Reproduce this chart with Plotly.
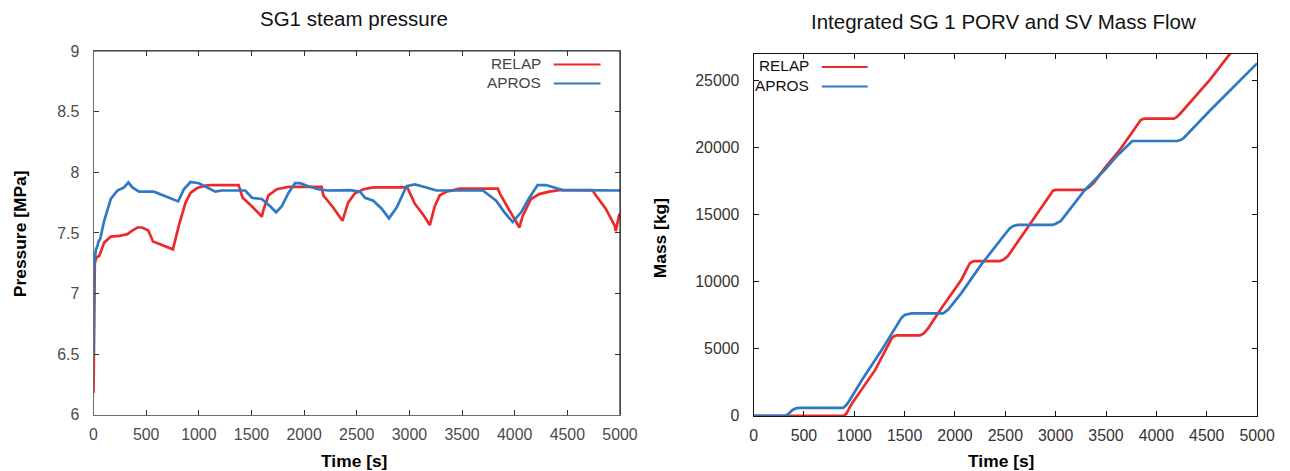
import plotly.graph_objects as go

# ---------------- data ----------------
relap_p_t = [0, 5, 12, 29, 54, 101, 164, 243, 322, 369, 416, 461, 520, 565, 621, 700, 754,
             810, 874, 921, 984, 1063, 1120, 1378, 1416, 1504, 1598, 1614, 1662, 1740, 1851,
             2166, 2182, 2276, 2364, 2418, 2481, 2563, 2657, 2980, 3052, 3131, 3194, 3241,
             3288, 3351, 3414, 3477, 3840, 3862, 3934, 4004, 4045, 4076, 4155, 4234, 4328,
             4423, 4738, 4770, 4865, 4950, 4960, 4990, 5000]
relap_p = [6.18, 7.0, 7.25, 7.30, 7.31, 7.42, 7.47, 7.475, 7.49, 7.52, 7.545, 7.545, 7.52,
           7.43, 7.41, 7.385, 7.365, 7.56, 7.75, 7.83, 7.87, 7.89, 7.895, 7.895, 7.79, 7.72,
           7.635, 7.69, 7.81, 7.86, 7.88, 7.88, 7.81, 7.71, 7.60, 7.75, 7.825, 7.86, 7.875,
           7.875, 7.74, 7.65, 7.565, 7.72, 7.81, 7.84, 7.853, 7.865, 7.865, 7.82, 7.71, 7.61,
           7.545, 7.64, 7.78, 7.82, 7.84, 7.853, 7.853, 7.81, 7.70, 7.56, 7.515, 7.64, 7.66]

apros_p_t = [0, 5, 15, 22, 40, 47, 63, 101, 164, 227, 290, 331, 369, 432, 574, 716, 804, 858,
             921, 1000, 1078, 1157, 1215, 1441, 1504, 1598, 1677, 1734, 1788, 1851, 1914, 1961,
             2040, 2134, 2227, 2437, 2532, 2579, 2657, 2737, 2806, 2879, 2973, 3052, 3162, 3257,
             3698, 3761, 3824, 3903, 3981, 4061, 4139, 4218, 4297, 4376, 4454, 5000]
apros_p = [6.5, 7.25, 7.30, 7.36, 7.40, 7.43, 7.45, 7.60, 7.78, 7.85, 7.875, 7.917, 7.875, 7.84,
           7.84, 7.79, 7.76, 7.86, 7.92, 7.91, 7.875, 7.84, 7.85, 7.85, 7.79, 7.78, 7.72, 7.67,
           7.72, 7.83, 7.91, 7.91, 7.885, 7.86, 7.85, 7.853, 7.84, 7.79, 7.765, 7.70, 7.62, 7.71,
           7.885, 7.90, 7.875, 7.85, 7.85, 7.81, 7.765, 7.67, 7.59, 7.67, 7.79, 7.895, 7.895,
           7.875, 7.853, 7.85]

relap_m_t = [0, 895, 920, 977, 1208, 1373, 1395, 1422, 1653, 1690, 1735, 1867, 2065, 2147,
             2170, 2197, 2444, 2480, 2526, 2756, 2954, 2975, 3003, 3284, 3330, 3382, 3481,
             3645, 3843, 3865, 3892, 4173, 4205, 4238, 4535, 4749, 5000]
relap_m = [0, 0, 150, 930, 3430, 5800, 5940, 6000, 6000, 6150, 6550, 8050, 10180, 11380,
           11500, 11550, 11550, 11650, 11930, 14430, 16680, 16810, 16860, 16860, 17050, 17430,
           18430, 19930, 22060, 22150, 22180, 22180, 22300, 22560, 25110, 27190, 29300]

apros_m_t = [0, 320, 350, 384, 420, 450, 888, 915, 945, 1076, 1274, 1439, 1470, 1505, 1570,
             1883, 1905, 1933, 2065, 2262, 2542, 2580, 2625, 2970, 3005, 3052, 3284, 3497,
             3613, 3761, 4205, 4240, 4272, 4535, 5000]
apros_m = [0, 0, 180, 427, 560, 600, 600, 760, 1050, 2680, 4930, 6930, 7330, 7550, 7650,
           7650, 7750, 7930, 9180, 11300, 13980, 14170, 14250, 14250, 14360, 14550, 16800,
           18430, 19430, 20510, 20510, 20580, 20730, 22800, 26300]

series_names = ["RELAP", "APROS"]
x_ticks = [0, 500, 1000, 1500, 2000, 2500, 3000, 3500, 4000, 4500, 5000]
p_ticks = [6, 6.5, 7, 7.5, 8, 8.5, 9]
m_ticks = [0, 5000, 10000, 15000, 20000, 25000]

titles = ["SG1 steam pressure", "Integrated SG 1 PORV and SV Mass Flow"]
x_title = "Time [s]"
y_titles = ["Pressure [MPa]", "Mass [kg]"]

# ---------------- styling ----------------
# Figure size and a measured window-pixel -> figure-pixel mapping of the viewer.
FW, FH = 1300, 482
AX, SX = 2.7, 0.986
AY, SY = 8.0, 0.965
K = 1 / ((SX + SY) / 2)          # font compensation

RED = "#eb2a2a"
BLUE = "#2f78c3"
FONT = "Liberation Sans"
LW = 2.7


def px(x):
    return ((x - AX) / SX) / FW


def py(y):
    return 1 - ((y - AY) / SY) / FH


fig = go.Figure()

fig.add_trace(go.Scatter(x=relap_p_t, y=relap_p, mode="lines", name=series_names[0],
                         line=dict(color=RED, width=LW), xaxis="x", yaxis="y", showlegend=False))
fig.add_trace(go.Scatter(x=apros_p_t, y=apros_p, mode="lines", name=series_names[1],
                         line=dict(color=BLUE, width=LW), xaxis="x", yaxis="y", showlegend=False))
fig.add_trace(go.Scatter(x=relap_m_t, y=relap_m, mode="lines", name=series_names[0],
                         line=dict(color=RED, width=LW), xaxis="x2", yaxis="y2", showlegend=False))
fig.add_trace(go.Scatter(x=apros_m_t, y=apros_m, mode="lines", name=series_names[1],
                         line=dict(color=BLUE, width=LW), xaxis="x2", yaxis="y2", showlegend=False))

common_axis = dict(showgrid=False, zeroline=False, showline=True, mirror="allticks",
                   ticks="inside", ticklen=5.2, tickwidth=1)
TF = 15.5 * K

fig.update_layout(
    width=FW, height=FH,
    margin=dict(l=0, r=0, t=0, b=0),
    paper_bgcolor="white", plot_bgcolor="white",
    font=dict(family=FONT, size=15, color="#444"),
    xaxis=dict(domain=[px(92.5), px(620.5)], range=[0, 5000], tickvals=x_ticks,
               linecolor="#6e6e6e", tickcolor="#333", anchor="y", ticklabelstandoff=5,
               tickfont=dict(size=TF, color="#4a4a4a"), **common_axis),
    yaxis=dict(domain=[py(415), py(51)], range=[6, 9], tickvals=p_ticks,
               linecolor="#6e6e6e", tickcolor="#333", anchor="x", ticklabelstandoff=10,
               tickfont=dict(size=TF, color="#4a4a4a"), **common_axis),
    xaxis2=dict(domain=[px(754.5), px(1259.5)], range=[0, 5000], tickvals=x_ticks,
                linecolor="#111", tickcolor="#111", anchor="y2", ticklabelstandoff=5,
                tickfont=dict(size=TF, color="#333"), **common_axis),
    yaxis2=dict(domain=[py(416), py(54)], range=[0, 27000], tickvals=m_ticks, tickformat="d",
                linecolor="#111", tickcolor="#111", anchor="x2", ticklabelstandoff=10,
                tickfont=dict(size=TF, color="#333"), **common_axis),
)

# darker top/right border on the left chart
fig.add_shape(type="line", xref="x domain", yref="y domain", x0=0, x1=1, y0=1, y1=1,
              line=dict(color="#2a2a2a", width=1))
fig.add_shape(type="line", xref="x domain", yref="y domain", x0=1, x1=1, y0=0, y1=1,
              line=dict(color="#111", width=1))

annotations = []
annotations.append(dict(text=titles[0], x=px(354), y=py(19), xref="paper", yref="paper",
                        showarrow=False, xanchor="center", yanchor="middle",
                        font=dict(size=20 * K, color="#111", family=FONT)))
annotations.append(dict(text=titles[1], x=px(1005), y=py(22), xref="paper", yref="paper",
                        showarrow=False, xanchor="center", yanchor="middle",
                        font=dict(size=20 * K, color="#111", family=FONT)))
for xc in (354, 1003):
    annotations.append(dict(text="<b>" + x_title + "</b>", x=px(xc), y=py(461), xref="paper",
                            yref="paper", showarrow=False, xanchor="center", yanchor="middle",
                            font=dict(size=17 * K, color="#000", family=FONT)))
annotations.append(dict(text="<b>" + y_titles[0] + "</b>", x=px(19), y=py(234), xref="paper",
                        yref="paper", showarrow=False, xanchor="center", yanchor="middle",
                        textangle=-90, font=dict(size=17 * K, color="#000", family=FONT)))
annotations.append(dict(text="<b>" + y_titles[1] + "</b>", x=px(661), y=py(238), xref="paper",
                        yref="paper", showarrow=False, xanchor="center", yanchor="middle",
                        textangle=-90, font=dict(size=17 * K, color="#000", family=FONT)))

# gnuplot-style legends: text right-aligned, then the line sample
legend_specs = [
    (543, 554, 601, (63.5, 82.5), "#444"),
    (812, 823, 869, (66, 85.5), "#111"),
]
colors = [RED, BLUE]
for tx, lx0, lx1, rows, tcol in legend_specs:
    for name, col, yy in zip(series_names, colors, rows):
        annotations.append(dict(text=name, x=px(tx), y=py(yy), xref="paper", yref="paper",
                                showarrow=False, xanchor="right", yanchor="middle",
                                font=dict(size=15 * K, color=tcol, family=FONT)))
        fig.add_shape(type="line", xref="paper", yref="paper", x0=px(lx0), x1=px(lx1),
                      y0=py(yy + 1), y1=py(yy + 1), line=dict(color=col, width=2))

fig.update_layout(annotations=annotations)

fig.write_html("out.html")
